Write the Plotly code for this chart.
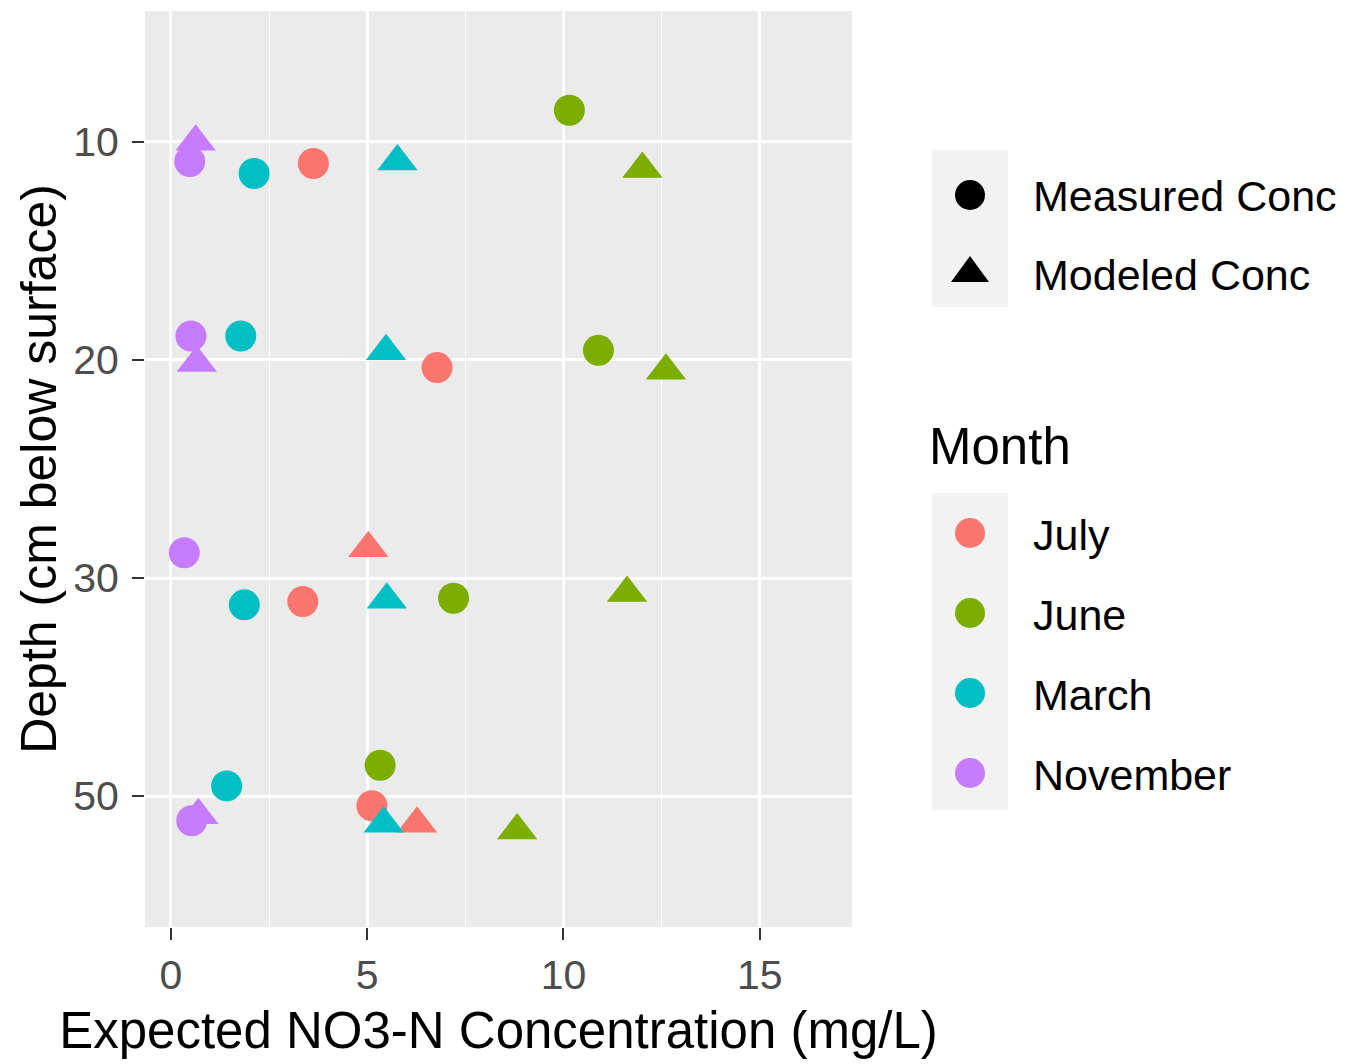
import plotly.graph_objects as go

# depth slots on the discrete y axis (top to bottom)
depth_levels = ["10", "20", "30", "50"]
months = ["July", "June", "March", "November"]
month_colors = {"July": "#F8766D", "June": "#7CAE00", "March": "#00BFC4", "November": "#C77CFF"}

# Measured concentrations (circles); jitter is the vertical offset within a depth slot
meas_month = ["July", "July", "July", "July",
              "June", "June", "June", "June",
              "March", "March", "March", "March",
              "November", "November", "November", "November"]
meas_depth = ["10", "20", "30", "50"] * 4
meas_conc = [3.63, 6.78, 3.36, 5.12,
             10.15, 10.89, 7.20, 5.33,
             2.12, 1.78, 1.87, 1.42,
             0.48, 0.51, 0.34, 0.53]
meas_jitter = [0.099, 0.035, 0.108, 0.044,
               -0.145, -0.044, 0.093, -0.142,
               0.145, -0.110, 0.123, -0.047,
               0.090, -0.110, -0.116, 0.113]

# Modeled concentrations (triangles)
mod_month = ["July", "July",
             "June", "June", "June", "June",
             "March", "March", "March", "March",
             "November", "November", "November"]
mod_depth = ["30", "50",
             "10", "20", "30", "50",
             "10", "20", "30", "50",
             "10", "20", "50"]
mod_conc = [5.03, 6.27,
            12.01, 12.61, 11.62, 8.82,
            5.77, 5.48, 5.50, 5.42,
            0.63, 0.66, 0.70]
mod_jitter = [-0.137, 0.127,
              0.125, 0.049, 0.068, 0.157,
              0.090, -0.040, 0.099, 0.127,
              0.000, 0.014, 0.088]

x_ticks = [0, 5, 10, 15]

W, H = 1360, 1064
L, R, T, B = 145, 508, 11, 137
PW, PH = W - L - R, H - T - B


def px(x):
    return (x - L) / PW


def py(y):
    return (H - B - y) / PH


def slot(depths, jitter):
    return [depth_levels.index(d) + 1 + j for d, j in zip(depths, jitter)]


fig = go.Figure()

fig.add_trace(go.Scatter(
    x=meas_conc, y=slot(meas_depth, meas_jitter), mode="markers",
    name="Measured Conc", showlegend=False,
    marker=dict(symbol="circle", size=31, color=[month_colors[m] for m in meas_month], line=dict(width=0)),
    text=meas_month, hovertemplate="%{text}: %{x} mg/L<extra>Measured</extra>",
))
fig.add_trace(go.Scatter(
    x=mod_conc, y=slot(mod_depth, mod_jitter), mode="markers",
    name="Modeled Conc", showlegend=False,
    marker=dict(symbol="triangle-up", size=35, color=[month_colors[m] for m in mod_month], line=dict(width=0)),
    text=mod_month, hovertemplate="%{text}: %{x} mg/L<extra>Modeled</extra>",
))

font_family = "Liberation Sans, Arial, sans-serif"

# ggplot-style legends drawn by hand (plotly caps legend symbols at 16px)
shapes = [
    dict(type="rect", xref="paper", yref="paper", x0=px(932), x1=px(1008), y0=py(150), y1=py(307),
         fillcolor="#F2F2F2", line=dict(width=0), layer="below"),
    dict(type="rect", xref="paper", yref="paper", x0=px(932), x1=px(1008), y0=py(493), y1=py(810),
         fillcolor="#F2F2F2", line=dict(width=0), layer="below"),
    dict(type="circle", xref="paper", yref="paper", x0=px(955), x1=px(985), y0=py(180), y1=py(210),
         fillcolor="black", line=dict(width=0)),
    dict(type="path", xref="paper", yref="paper",
         path="M {} {} L {} {} L {} {} Z".format(px(951), py(282), px(989), py(282), px(970), py(256)),
         fillcolor="black", line=dict(width=0)),
]
annotations = [
    dict(text="Measured Conc", x=px(1031), y=py(196)),
    dict(text="Modeled Conc", x=px(1031), y=py(275)),
    dict(text="Month", x=px(927), y=py(446), size=51),
]
for i, m in enumerate(months):
    cy = 533 + 80 * i
    shapes.append(dict(type="circle", xref="paper", yref="paper", x0=px(955), x1=px(985),
                       y0=py(cy - 15), y1=py(cy + 15), fillcolor=month_colors[m], line=dict(width=0)))
    annotations.append(dict(text=m, x=px(1031), y=py(cy + 2)))

fig.update_layout(
    width=W, height=H,
    margin=dict(l=L, r=R, t=T, b=B),
    paper_bgcolor="white",
    plot_bgcolor="#EBEBEB",
    font=dict(family=font_family, color="black"),
    showlegend=False,
    shapes=shapes,
    annotations=[dict(text=a["text"], x=a["x"], y=a["y"], xref="paper", yref="paper",
                      xanchor="left", yanchor="middle", showarrow=False,
                      font=dict(size=a.get("size", 43), color="black", family=font_family))
                 for a in annotations],
    xaxis=dict(
        range=[-0.66, 17.35], tickvals=x_ticks, ticktext=[str(v) for v in x_ticks],
        showgrid=True, gridcolor="white", gridwidth=2.5, zeroline=False, showline=False,
        minor=dict(dtick=2.5, tick0=0, showgrid=True, gridcolor="white", gridwidth=1.2),
        ticks="outside", ticklen=12, tickwidth=2, tickcolor="#333333",
        tickfont=dict(size=41, color="#4D4D4D"),
        title=dict(text="Expected NO3-N Concentration (mg/L)", font=dict(size=51, color="black"), standoff=15),
    ),
    yaxis=dict(
        range=[4.6, 0.4], tickvals=[1, 2, 3, 4], ticktext=depth_levels,
        showgrid=True, gridcolor="white", gridwidth=2.5, zeroline=False, showline=False,
        ticks="outside", ticklen=12, tickwidth=2, tickcolor="#333333",
        tickfont=dict(size=41, color="#4D4D4D"), ticklabelstandoff=5,
        title=dict(text="Depth (cm below surface)", font=dict(size=50, color="black"), standoff=0),
    ),
)

fig.write_html("out.html", config={"displayModeBar": False},
               post_script="document.body.style.margin = '0';")
